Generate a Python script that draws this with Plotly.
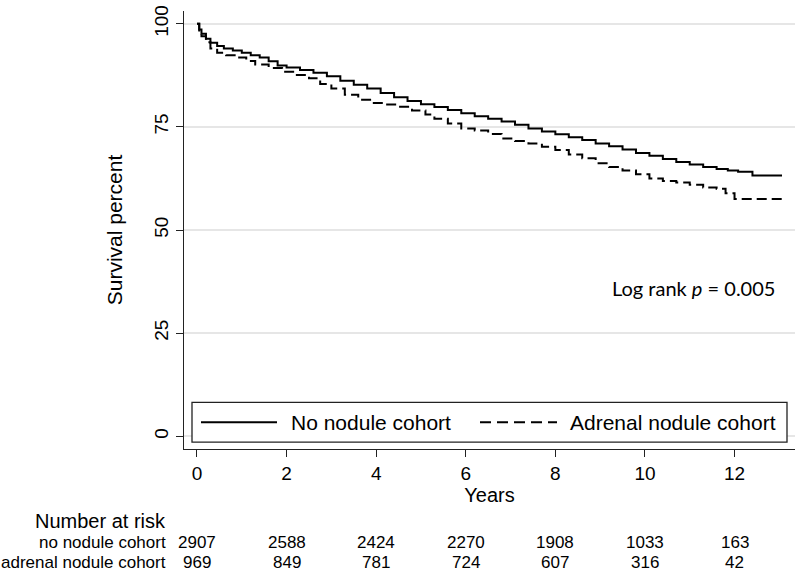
import plotly.graph_objects as go

# ---- data ----
no_nodule_t = [0, 0.05, 0.1, 0.2, 0.3, 0.45, 0.6, 0.8, 1.0, 1.2, 1.4, 1.6, 1.8, 2.0, 2.3, 2.6, 2.9,
               3.2, 3.5, 3.8, 4.1, 4.4, 4.7, 5.0, 5.3, 5.6, 5.9, 6.2, 6.5, 6.8, 7.1, 7.4, 7.7, 8.0,
               8.3, 8.6, 8.9, 9.2, 9.5, 9.8, 10.1, 10.4, 10.7, 11.0, 11.3, 11.6, 11.85, 12.08, 12.4, 13.06]
no_nodule_s = [100, 98.6, 97.6, 96.4, 95.4, 94.6, 94.0, 93.5, 93.0, 92.4, 91.8, 90.9, 89.9, 89.4, 88.8,
               88.1, 87.3, 86.2, 85.2, 84.3, 83.2, 82.2, 81.3, 80.5, 79.8, 79.1, 78.3, 77.6, 77.0, 76.3,
               75.5, 74.6, 73.9, 73.2, 72.5, 71.8, 71.0, 70.3, 69.5, 68.7, 68.0, 67.2, 66.5, 65.9, 65.3,
               64.8, 64.4, 64.1, 63.2, 63.2]

adrenal_t = [0, 0.05, 0.1, 0.2, 0.3, 0.45, 0.65, 0.9, 1.1, 1.3, 1.6, 1.9, 2.2, 2.5, 2.75, 3.0, 3.3,
             3.6, 3.9, 4.2, 4.5, 4.8, 5.1, 5.3, 5.6, 5.9, 6.2, 6.5, 6.8, 7.1, 7.4, 7.7, 8.0, 8.3, 8.6,
             8.9, 9.2, 9.5, 9.8, 10.1, 10.4, 10.7, 11.0, 11.3, 11.6, 11.8, 12.0, 13.06]
adrenal_s = [100, 98.0, 97.0, 95.5, 94.0, 93.0, 92.4, 91.8, 91.0, 90.1, 89.3, 88.4, 87.6, 86.8, 85.4,
             84.3, 82.8, 81.6, 80.8, 80.4, 79.9, 79.0, 78.0, 77.0, 75.8, 74.6, 74.1, 73.3, 72.2, 71.6,
             71.0, 70.2, 69.4, 68.3, 67.4, 66.2, 65.3, 64.4, 63.5, 62.5, 61.9, 61.5, 61.0, 60.3, 60.0,
             58.9, 57.5, 57.5]

risk_times = [0, 2, 4, 6, 8, 10, 12]
risk_no_nodule = [2907, 2588, 2424, 2270, 1908, 1033, 163]
risk_adrenal = [969, 849, 781, 724, 607, 316, 42]

series_names = ["No nodule cohort", "Adrenal nodule cohort"]
risk_row_labels = ["no nodule cohort", "adrenal nodule cohort"]
y_ticks = [0, 25, 50, 75, 100]
x_ticks = [0, 2, 4, 6, 8, 10, 12]

# ---- layout geometry (pixels) ----
W, H = 800, 573
L, R, T, B = 184, 5, 8, 124
PW, PH = W - L - R, H - T - B


def px(xp):
    return (xp - L) / PW


def py(yp):
    return (T + PH - yp) / PH


FONT = "Liberation Sans, Arial, Helvetica, sans-serif"

fig = go.Figure()
fig.add_trace(go.Scatter(x=no_nodule_t, y=no_nodule_s, mode="lines", line_shape="hv",
                         line=dict(color="black", width=2), name=series_names[0], showlegend=False))
fig.add_trace(go.Scatter(x=adrenal_t, y=adrenal_s, mode="lines", line_shape="hv",
                         line=dict(color="black", width=2, dash="10px,5px"), name=series_names[1],
                         showlegend=False))

fig.update_layout(
    width=W, height=H,
    margin=dict(l=L, r=R, t=T, b=B, pad=0),
    paper_bgcolor="white", plot_bgcolor="white",
    font=dict(family=FONT, color="black", size=19),
    xaxis=dict(range=[-0.29, 13.35], tickvals=x_ticks, ticks="outside", ticklen=7, tickwidth=1.3,
               tickcolor="#222", showline=True, linecolor="#222", linewidth=1.3, showgrid=False,
               zeroline=False, tickfont=dict(size=19),
               title=dict(text="Years", font=dict(size=20), standoff=2)),
    yaxis=dict(range=[-3.1, 103.1], tickvals=y_ticks, ticks="outside", ticklen=7, tickwidth=1.3,
               tickcolor="#222", showline=True, linecolor="#222", linewidth=1.3, showgrid=True,
               gridcolor="#e6e6e6", gridwidth=1.5, zeroline=False, tickangle=-90,
               tickfont=dict(size=19),
               title=dict(text="Survival percent", font=dict(size=21), standoff=22)),
)

shapes = []
annotations = []

# legend box drawn as in the reference
shapes.append(dict(type="rect", xref="paper", yref="paper", x0=px(192), x1=px(787), y0=py(442), y1=py(402),
                   line=dict(color="#222", width=1.3), fillcolor="white", layer="above"))
shapes.append(dict(type="line", xref="paper", yref="paper", x0=px(201), x1=px(277), y0=py(422), y1=py(422),
                   line=dict(color="black", width=2)))
shapes.append(dict(type="line", xref="paper", yref="paper", x0=px(480), x1=px(557), y0=py(422), y1=py(422),
                   line=dict(color="black", width=2, dash="11px,6px")))
annotations.append(dict(text=series_names[0], xref="paper", yref="paper", x=px(289), y=py(422),
                        xanchor="left", yanchor="middle", showarrow=False, font=dict(size=21)))
annotations.append(dict(text=series_names[1], xref="paper", yref="paper", x=px(568), y=py(422),
                        xanchor="left", yanchor="middle", showarrow=False, font=dict(size=21)))

# log-rank annotation
annotations.append(dict(text="Log rank <i>p</i> = 0.005", xref="paper", yref="paper", x=px(777), y=py(287),
                        xanchor="right", yanchor="middle", showarrow=False,
                        font=dict(family="Lato, Open Sans, sans-serif", size=20)))

# number at risk table
annotations.append(dict(text="Number at risk", xref="paper", yref="paper", x=px(168), y=py(521),
                        xanchor="right", yanchor="middle", showarrow=False, font=dict(size=20)))
row_y = [543, 563]
for lab, yy in zip(risk_row_labels, row_y):
    annotations.append(dict(text=lab, xref="paper", yref="paper", x=px(168), y=py(yy),
                            xanchor="right", yanchor="middle", showarrow=False, font=dict(size=17)))
for vals, yy in zip([risk_no_nodule, risk_adrenal], row_y):
    for t, v in zip(risk_times, vals):
        annotations.append(dict(text=str(v), xref="x", yref="paper", x=t, y=py(yy),
                                xanchor="center", yanchor="middle", showarrow=False, font=dict(size=17)))

fig.update_layout(shapes=shapes, annotations=annotations)
fig.write_html("out.html", config={"displayModeBar": False},
               post_script="document.body.style.margin='0px';document.body.style.overflow='hidden';")
